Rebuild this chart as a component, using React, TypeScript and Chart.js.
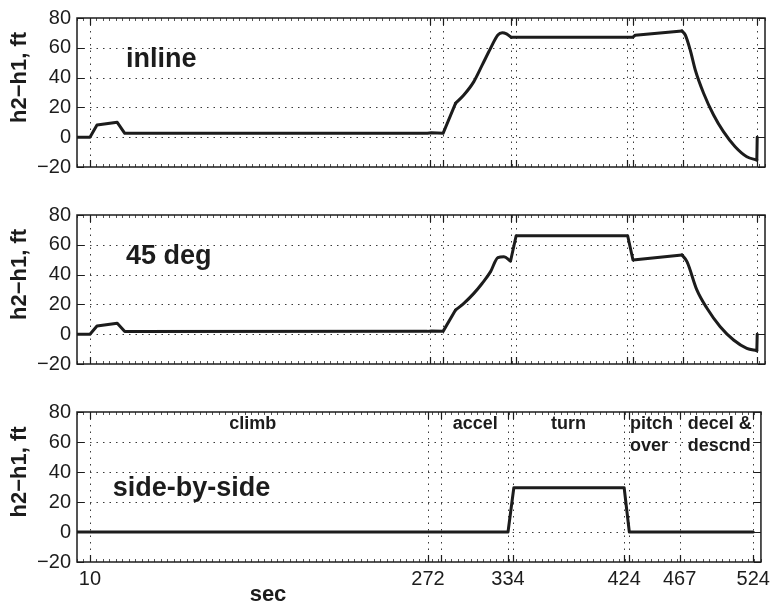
import React, { useEffect, useRef } from "react";
import { Chart, registerables } from "chart.js";
Chart.register(...registerables);

// ---------- data ----------
const xTickLabeled = [10, 272, 334, 424, 467, 524];
const xTickExtra = [282, 338, 428];
const yTickValues = [-20, 0, 20, 40, 60, 80];

const inlineT = [0, 10, 15.4, 31, 36.8, 270, 273, 282, 291.6, 298, 305.7, 312.2, 318.6, 324.2, 327.6, 330.9, 334.5, 428, 430, 466, 468.6, 472.4, 476.3, 482.7, 490.4, 498, 507, 516, 523.7, 524];
const inlineH = [0, 0, 8.2, 10, 2.6, 2.6, 3.0, 2.6, 22.7, 28.3, 37.3, 48.5, 59.7, 68.6, 70.1, 69.3, 67, 67, 68.4, 71.3, 68.6, 58.5, 45.1, 29.5, 14.9, 3.7, -6.4, -13.1, -15.3, 0];
// time ranges drawn as smooth curves
const inlineSmooth = [[291.6, 334.5], [466, 523.7]];

const deg45T = [0, 10, 15.4, 31, 36.8, 270, 273, 282, 291.6, 298, 305.7, 312.2, 318.6, 324.2, 328.9, 334, 338.3, 424.2, 428.3, 466, 469.9, 477.5, 485.3, 495.5, 505.8, 516, 523.7, 524];
const deg45H = [0, 0, 5.5, 7.3, 1.8, 1.9, 2.2, 1.9, 16.2, 20.7, 27.4, 34.2, 42, 51.4, 52, 49.1, 66.1, 66.1, 49.8, 53.2, 48.7, 29.7, 17.4, 5, -3.9, -9.5, -11.1, 0];
const deg45Smooth = [[291.6, 334], [466, 523.7]];

const sideT = [0, 334, 338.5, 424, 428, 524];
const sideH = [0, 0, 29.5, 29.5, 0, 0];
const sideSmooth: number[][] = [];

const panelNames = ["inline", "45 deg", "side-by-side"];
// anchor of each panel name in data coordinates (sec, ft)
const panelNameT = [37.7, 37.7, 27.7];
const panelNameV = [47.3, 47.1, 24];

const phaseText = ["climb", "accel", "turn", "pitch", "over", "decel &", "descnd"];
const phaseT = [136.2, 308.6, 380.9, 428.6, 428.6, 473.2, 473.2];
const phaseV = [68.5, 68.5, 68.5, 68.5, 54, 68.5, 54];
const phaseAlign = ["center", "center", "center", "left", "left", "left", "left"];

const yTitle = "h2\u2212h1, ft";
const xTitle = "sec";

const FONT = "'Liberation Sans', Arial, Helvetica, sans-serif";
const INK = "#1c1c1c";

type Panel = {
  t: number[];
  h: number[];
  smooth: number[][];
  idx: number;
  padTop: number;
  xHeight: number;
  showX: boolean;
};

function buildDatasets(t: number[], h: number[], smooth: number[][]) {
  const isSmoothSeg = (a: number, b: number) => smooth.some(([s, e]) => a >= s && b <= e);
  const pieces: { pts: { x: number; y: number }[]; smooth: boolean }[] = [];
  for (let i = 0; i < t.length - 1; i++) {
    const sm = isSmoothSeg(t[i], t[i + 1]);
    const last = pieces[pieces.length - 1];
    if (last && last.smooth === sm) {
      last.pts.push({ x: t[i + 1], y: h[i + 1] });
    } else {
      pieces.push({ pts: [{ x: t[i], y: h[i] }, { x: t[i + 1], y: h[i + 1] }], smooth: sm });
    }
  }
  return pieces.map((p) => ({
    data: p.pts,
    borderColor: INK,
    borderWidth: 3,
    pointRadius: 0,
    tension: p.smooth ? 0.4 : 0,
    cubicInterpolationMode: p.smooth ? "monotone" : "default",
    fill: false,
    borderJoinStyle: "round",
    borderCapStyle: "round",
  }));
}

function makeChart(canvas: HTMLCanvasElement, p: Panel) {
  const allX = [...xTickLabeled, ...xTickExtra].sort((a, b) => a - b);
  const deco = {
    id: "deco" + p.idx,
    beforeDatasetsDraw(chart: any) {
      const ctx = chart.ctx as CanvasRenderingContext2D;
      const a = chart.chartArea;
      const xs = chart.scales.x;
      const ys = chart.scales.y;
      ctx.save();
      ctx.strokeStyle = "#3a3a3a";
      ctx.lineWidth = 1;
      ctx.setLineDash([1.5, 5]);
      ctx.beginPath();
      for (const v of yTickValues) {
        if (v === -20 || v === 80) continue;
        const py = Math.round(ys.getPixelForValue(v)) + 0.5;
        ctx.moveTo(a.left, py);
        ctx.lineTo(a.right, py);
      }
      for (const v of allX) {
        const px = Math.round(xs.getPixelForValue(v)) + 0.5;
        ctx.moveTo(px, a.top);
        ctx.lineTo(px, a.bottom);
      }
      ctx.stroke();
      ctx.restore();
    },
    afterDraw(chart: any) {
      const ctx = chart.ctx as CanvasRenderingContext2D;
      const a = chart.chartArea;
      const xs = chart.scales.x;
      const ys = chart.scales.y;
      ctx.save();
      // minor ticks
      ctx.strokeStyle = "#555";
      ctx.lineWidth = 1;
      ctx.beginPath();
      for (let v = 0; v <= 530; v += 5) {
        const px = Math.round(xs.getPixelForValue(v)) + 0.5;
        ctx.moveTo(px, a.bottom);
        ctx.lineTo(px, a.bottom - 3);
        ctx.moveTo(px, a.top);
        ctx.lineTo(px, a.top + 3);
      }
      ctx.stroke();
      // major ticks
      ctx.strokeStyle = INK;
      ctx.lineWidth = 1.2;
      ctx.beginPath();
      for (const v of allX) {
        const px = Math.round(xs.getPixelForValue(v)) + 0.5;
        ctx.moveTo(px, a.bottom);
        ctx.lineTo(px, a.bottom - 7);
        ctx.moveTo(px, a.top);
        ctx.lineTo(px, a.top + 7);
      }
      for (const v of yTickValues) {
        const py = Math.round(ys.getPixelForValue(v)) + 0.5;
        ctx.moveTo(a.left, py);
        ctx.lineTo(a.left + 7, py);
        ctx.moveTo(a.right, py);
        ctx.lineTo(a.right - 7, py);
      }
      ctx.stroke();
      // box
      ctx.lineWidth = 1.5;
      ctx.strokeRect(a.left, a.top, a.right - a.left, a.bottom - a.top);
      // y title
      ctx.fillStyle = INK;
      ctx.font = `bold 22px ${FONT}`;
      ctx.textAlign = "center";
      ctx.textBaseline = "middle";
      ctx.save();
      ctx.translate(20, (a.top + a.bottom) / 2 - 15);
      ctx.rotate(-Math.PI / 2);
      ctx.fillText(yTitle, 0, 0);
      ctx.restore();
      // panel name
      ctx.font = `bold 27px ${FONT}`;
      ctx.textAlign = "left";
      ctx.textBaseline = "alphabetic";
      ctx.fillText(
        panelNames[p.idx],
        xs.getPixelForValue(panelNameT[p.idx]),
        ys.getPixelForValue(panelNameV[p.idx])
      );
      if (p.showX) {
        ctx.font = `bold 18px ${FONT}`;
        for (let i = 0; i < phaseText.length; i++) {
          ctx.textAlign = phaseAlign[i] as CanvasTextAlign;
          ctx.fillText(phaseText[i], xs.getPixelForValue(phaseT[i]), ys.getPixelForValue(phaseV[i]));
        }
        ctx.font = `bold 22px ${FONT}`;
        ctx.textAlign = "center";
        ctx.textBaseline = "middle";
        ctx.fillText(xTitle, 268, chart.height - 11);
      }
      ctx.restore();
    },
  };

  const gridOpts = { display: false, drawTicks: false };
  const borderOpts = { display: false };

  return new Chart(canvas, {
    type: "line",
    data: { datasets: buildDatasets(p.t, p.h, p.smooth) as any },
    options: {
      responsive: false,
      animation: false,
      events: [],
      layout: { padding: { top: p.padTop, right: 10, left: 0, bottom: 0 } },
      plugins: { legend: { display: false }, tooltip: { enabled: false }, title: { display: false } },
      scales: {
        x: {
          type: "linear",
          min: 0,
          max: 530,
          afterBuildTicks: (s: any) => {
            s.ticks = allX.map((v) => ({ value: v }));
          },
          afterFit: (s: any) => {
            s.height = p.xHeight;
          },
          ticks: {
            display: p.showX,
            autoSkip: false,
            maxRotation: 0,
            padding: 5,
            color: INK,
            font: { family: FONT, size: 20 },
            callback: (v: any) => (xTickLabeled.includes(Number(v)) ? String(v) : ""),
          },
          grid: gridOpts,
          border: borderOpts,
        },
        y: {
          type: "linear",
          min: -20,
          max: 80,
          afterBuildTicks: (s: any) => {
            s.ticks = yTickValues.map((v) => ({ value: v }));
          },
          afterFit: (s: any) => {
            s.width = 77;
          },
          ticks: {
            padding: 6,
            color: INK,
            font: { family: FONT, size: 20 },
            callback: (v: any) => String(v).replace("-", "\u2212"),
          },
          grid: gridOpts,
          border: borderOpts,
        },
      },
    } as any,
    plugins: [deco],
  });
}

export default function App() {
  const r1 = useRef<HTMLCanvasElement>(null);
  const r2 = useRef<HTMLCanvasElement>(null);
  const r3 = useRef<HTMLCanvasElement>(null);
  useEffect(() => {
    const charts = [
      makeChart(r1.current!, { t: inlineT, h: inlineH, smooth: inlineSmooth, idx: 0, padTop: 18, xHeight: 28, showX: false }),
      makeChart(r2.current!, { t: deg45T, h: deg45H, smooth: deg45Smooth, idx: 1, padTop: 20, xHeight: 26, showX: false }),
      makeChart(r3.current!, { t: sideT, h: sideH, smooth: sideSmooth, idx: 2, padTop: 22, xHeight: 44, showX: true }),
    ];
    return () => charts.forEach((c) => c.destroy());
  }, []);
  const cs: React.CSSProperties = { position: "absolute", left: 0, display: "block" };
  return (
    <div style={{ position: "absolute", left: 0, top: 0, width: 775, height: 606, background: "#fff" }}>
      <canvas ref={r1} width={775} height={195} style={{ ...cs, top: 0 }} />
      <canvas ref={r2} width={775} height={195} style={{ ...cs, top: 195 }} />
      <canvas ref={r3} width={775} height={216} style={{ ...cs, top: 390 }} />
    </div>
  );
}
